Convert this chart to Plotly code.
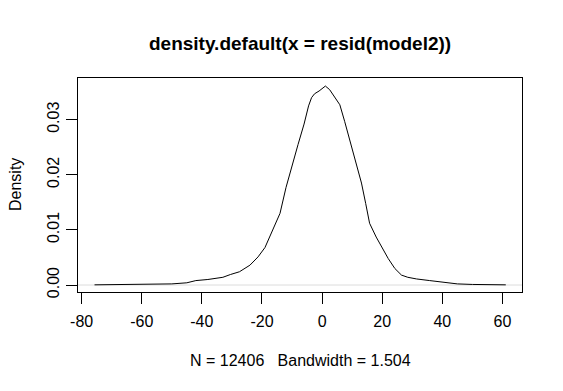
import plotly.graph_objects as go

# Density curve
resid_x = [-75.7, -65, -55, -50, -45, -42, -38, -35, -33, -30.5, -27.5, -24, -21.3, -19,
           -17.4, -15.5, -14, -12, -11, -10, -8, -6, -4.5, -3.5, -2.5, -1, 0, 1.1, 2.5, 4,
           5.9, 7.5, 9, 10.3, 11.7, 13.1, 14.5, 15.8, 18, 20.3, 22, 24.2, 26.4, 28.5,
           31.4, 35.8, 39, 42, 45, 50, 55, 61.1]
density_y = [0.00003, 0.00005, 0.0001, 0.0002, 0.0004, 0.0008, 0.001, 0.0012, 0.0014,
             0.0019, 0.0024, 0.0036, 0.0051, 0.0068, 0.0088, 0.0110, 0.0130, 0.0177,
             0.0197, 0.0218, 0.0255, 0.0292, 0.0325, 0.0340, 0.0347, 0.0352, 0.0356,
             0.0361, 0.03545, 0.0342, 0.0327, 0.0297, 0.0268, 0.0242, 0.0214, 0.0185,
             0.0148, 0.0112, 0.0087, 0.0064, 0.0048, 0.0030, 0.0018, 0.0014, 0.0011,
             0.0008, 0.0006, 0.0005, 0.0002, 0.0001, 0.00005, 0.00003]

x_ticks = [-80, -60, -40, -20, 0, 20, 40, 60]
x_tick_labels = ["-80", "-60", "-40", "-20", "0", "20", "40", "60"]
y_ticks = [0.00, 0.01, 0.02, 0.03]
y_tick_labels = ["0.00", "0.01", "0.02", "0.03"]

title_text = "density.default(x = resid(model2))"
x_label = "N = 12406\u00a0\u00a0\u00a0Bandwidth = 1.504"
y_label = "Density"

FONT = "Liberation Sans, Arial, Helvetica, sans-serif"

fig = go.Figure()
fig.add_trace(go.Scatter(x=resid_x, y=density_y, mode="lines",
                         line=dict(color="black", width=1), hoverinfo="skip",
                         showlegend=False))

# zero line (grey)
fig.add_shape(type="line", xref="paper", yref="y", x0=0, x1=1, y0=0, y1=0,
              line=dict(color="#dcdcdc", width=1), layer="below")

W, H = 563, 391
ml, mr, mt, mb = 78, 41, 78, 99

fig.update_layout(
    width=W, height=H,
    margin=dict(l=ml, r=mr, t=mt, b=mb, pad=0),
    paper_bgcolor="white", plot_bgcolor="white",
    font=dict(family=FONT, size=16, color="black"),
    showlegend=False,
    xaxis=dict(range=[-81.2, 66.5], tickvals=x_ticks, ticktext=x_tick_labels,
               ticks="outside", ticklen=11,
               tickwidth=1, tickcolor="black", showline=True, linecolor="black",
               linewidth=1, mirror=True, showgrid=False, zeroline=False,
               tickfont=dict(size=16, family=FONT, color="black"),
               ticklabelstandoff=4),
    yaxis=dict(range=[-0.00127, 0.03756], tickvals=y_ticks, ticktext=y_tick_labels,
               ticks="outside", ticklen=11, tickwidth=1, tickcolor="black",
               showline=True, linecolor="black", linewidth=1, mirror=True,
               showgrid=False, zeroline=False, tickangle=-90,
               tickfont=dict(size=16, family=FONT, color="black"),
               ticklabelstandoff=1),
    annotations=[
        dict(text="<b>" + title_text + "</b>", xref="paper", yref="paper",
             x=0.5, y=(H - 43 - mb) / (H - mt - mb), xanchor="center", yanchor="middle",
             showarrow=False, font=dict(size=19, family=FONT, color="black")),
        dict(text=x_label, xref="paper", yref="paper",
             x=0.5, y=(H - 360 - mb) / (H - mt - mb), xanchor="center", yanchor="middle",
             showarrow=False, font=dict(size=16, family=FONT, color="black")),
        dict(text=y_label, xref="paper", yref="paper",
             x=(15 - ml) / (W - ml - mr), y=0.5, xanchor="center", yanchor="middle",
             textangle=-90, showarrow=False,
             font=dict(size=16, family=FONT, color="black")),
    ],
)

fig.write_html("out.html", config={"displayModeBar": False},
               post_script="document.body.style.margin='0';document.body.style.padding='0';")
